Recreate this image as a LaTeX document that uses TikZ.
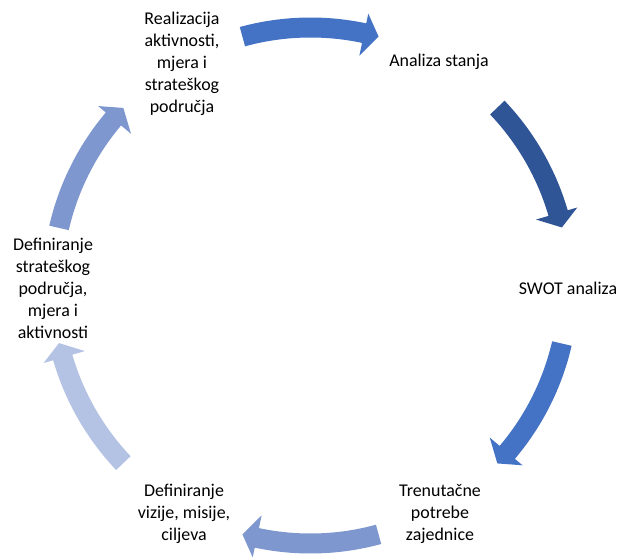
\documentclass[tikz,border=0pt]{standalone}
\usepackage{fontspec}
\setmainfont{Carlito}
\tikzset{phase state/.style={align=center, text=black, inner sep=0pt,
		font=\fontsize{15.3}{18.8}\selectfont}}
\definecolor{arBlue}{HTML}{4472C4}
\definecolor{arDark}{HTML}{2F5597}
\definecolor{arMid}{HTML}{7F97CF}
\definecolor{arLight}{HTML}{B4C2E3}
% block arrow on the cycle: #1 middle angle, #2 colour
\newcommand{\cyclearrow}[2]{%
	\fill[#2] ({#1+15.3}:268) arc[start angle={#1+15.3}, end angle={#1-12}, radius=268]
		-- ({#1-12}:278) -- ({#1-15.3}:258) -- ({#1-12}:235)
		-- ({#1-12}:248) arc[start angle={#1-12}, end angle={#1+15.3}, radius=248] -- cycle;}

\begin{document}
\begin{tikzpicture}[x=0.03cm, y=0.03cm]
	\useasboundingbox (-310.5,-270.5) rectangle (311.5,285.5);
	\node[phase state] at (128.5,223.5)   (p_1) {Analiza stanja};
	\node[phase state] at (257.5,-2.5)    (p_2) {SWOT analiza};
	\node[phase state] at (129.5,-228.5)  (p_3) {Trenutačne\\potrebe\\zajednice};
	\node[phase state] at (-126.5,-228.5) (p_4) {Definiranje\\vizije, misije,\\ciljeva};
	\node[phase state] at (-257.5,-2.5)   (p_5) {Definiranje\\strateškog\\područja,\\mjera i\\aktivnosti};
	\node[phase state] at (-128.5,221.5)  (p_6) {Realizacija\\aktivnosti,\\mjera i\\strateškog\\područja};
	\cyclearrow{90}{arBlue}
	\cyclearrow{28.3}{arDark}
	\cyclearrow{-28.3}{arBlue}
	\cyclearrow{-90}{arMid}
	\cyclearrow{-151.8}{arLight}
	\cyclearrow{151.8}{arMid}
\end{tikzpicture}
\end{document}
